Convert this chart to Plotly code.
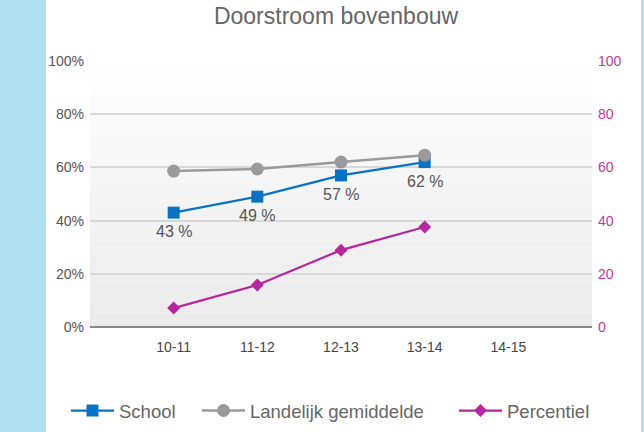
import plotly.graph_objects as go

categories = ["10-11", "11-12", "12-13", "13-14", "14-15"]
school = [43, 49, 57, 62, None]
school_labels = ["43 %", "49 %", "57 %", "62 %", ""]
landelijk = [58.6, 59.4, 62, 64.6, None]
percentiel = [7.1, 15.8, 28.9, 37.6, None]
left_ticks = [0, 20, 40, 60, 80, 100]
left_ticktext = ["0%", "20%", "40%", "60%", "80%", "100%"]
right_ticks = [0, 20, 40, 60, 80, 100]

FONT = "Liberation Sans, Arial, sans-serif"
W, H = 644, 432
L, R, T, B = 90, 52, 61, 105
PW, PH = W - L - R, H - T - B

fig = go.Figure()

fig.add_trace(go.Scatter(
    x=categories, y=school, name="School", mode="lines+markers",
    line=dict(color="#0a72c2", width=2.2),
    marker=dict(symbol="square", size=12, color="#0a72c2"),
    cliponaxis=False, legend="legend",
))
fig.add_trace(go.Scatter(
    x=categories, y=landelijk, name="Landelijk gemiddelde", mode="lines+markers",
    line=dict(color="#9a9a9a", width=2.5),
    marker=dict(symbol="circle", size=13, color="#9a9a9a"),
    cliponaxis=False, legend="legend2",
))
fig.add_trace(go.Scatter(
    x=categories, y=percentiel, name="Percentiel", mode="lines+markers",
    line=dict(color="#b5279c", width=2.2),
    marker=dict(symbol="diamond", size=10, color="#b5279c"),
    yaxis="y2", cliponaxis=False, legend="legend3",
))

annotations = []
for cat, val, lab in zip(categories, school, school_labels):
    if val is None or not lab:
        continue
    annotations.append(dict(x=cat, y=val, xref="x", yref="y", text=lab,
                            showarrow=False, yshift=-19, yanchor="middle",
                            font=dict(family=FONT, size=16, color="#555555")))

shapes = []
# gradient plot background
n = 40
for i in range(n):
    t = i / (n - 1)
    c = int(round(254 - (254 - 235) * t))
    shapes.append(dict(type="rect", xref="paper", yref="paper",
                       x0=0, x1=1, y0=1 - (i + 1) / n, y1=1 - i / n,
                       fillcolor=f"rgb({c},{c},{c})", line=dict(width=0),
                       layer="below"))
# light blue page stripes
blue = "#afe1f0"
shapes.append(dict(type="rect", xref="paper", yref="paper",
                   x0=(0 - L) / PW, x1=(46 - L) / PW,
                   y0=-B / PH - 0.01, y1=1 + T / PH + 0.01,
                   fillcolor=blue, line=dict(width=0), layer="below"))
shapes.append(dict(type="rect", xref="paper", yref="paper",
                   x0=(641 - L) / PW, x1=(W + 2 - L) / PW,
                   y0=-B / PH - 0.01, y1=1 + T / PH + 0.01,
                   fillcolor=blue, line=dict(width=0), layer="below"))

legend_common = dict(orientation="h", xref="container", xanchor="left",
                     y=(H - 411) / H, yref="container", yanchor="middle",
                     font=dict(family=FONT, size=18.5, color="#666666"),
                     bgcolor="rgba(0,0,0,0)", itemwidth=43)

fig.update_layout(
    width=W, height=H,
    margin=dict(l=L, r=R, t=T, b=B, pad=0),
    paper_bgcolor="white", plot_bgcolor="rgba(0,0,0,0)",
    font=dict(family=FONT, color="#555555"),
    title=dict(text="Doorstroom bovenbouw", x=336 / W, xref="container", xanchor="center",
               y=1 - 16 / H, yref="container", yanchor="middle",
               font=dict(family=FONT, size=23, color="#666666")),
    xaxis=dict(type="category", range=[-1, 5], showgrid=False, zeroline=False,
               showline=False, ticks="", tickfont=dict(family=FONT, size=14, color="#444444"),
               ticklabelstandoff=10),
    yaxis=dict(range=[0, 100], tickvals=left_ticks, ticktext=left_ticktext,
               showgrid=True, gridcolor="#d8d8d8", gridwidth=1.5,
               zeroline=True, zerolinecolor="#888888", zerolinewidth=2,
               showline=False, ticks="", ticklabelstandoff=5,
               tickfont=dict(family=FONT, size=14, color="#555555")),
    yaxis2=dict(range=[0, 100], tickvals=right_ticks, overlaying="y", side="right",
                showgrid=False, zeroline=False, showline=False, ticks="",
                ticklabelstandoff=5,
                tickfont=dict(family=FONT, size=14, color="#c0379f")),
    showlegend=True,
    legend=dict(x=(72 - 6) / W, **legend_common),
    legend2=dict(x=(203 - 6) / W, **legend_common),
    legend3=dict(x=(460 - 6) / W, **legend_common),
    shapes=shapes,
    annotations=annotations,
)

fig.write_html("out.html", config={"displayModeBar": False},
               post_script="document.body.style.margin='0';document.body.style.padding='0';")
